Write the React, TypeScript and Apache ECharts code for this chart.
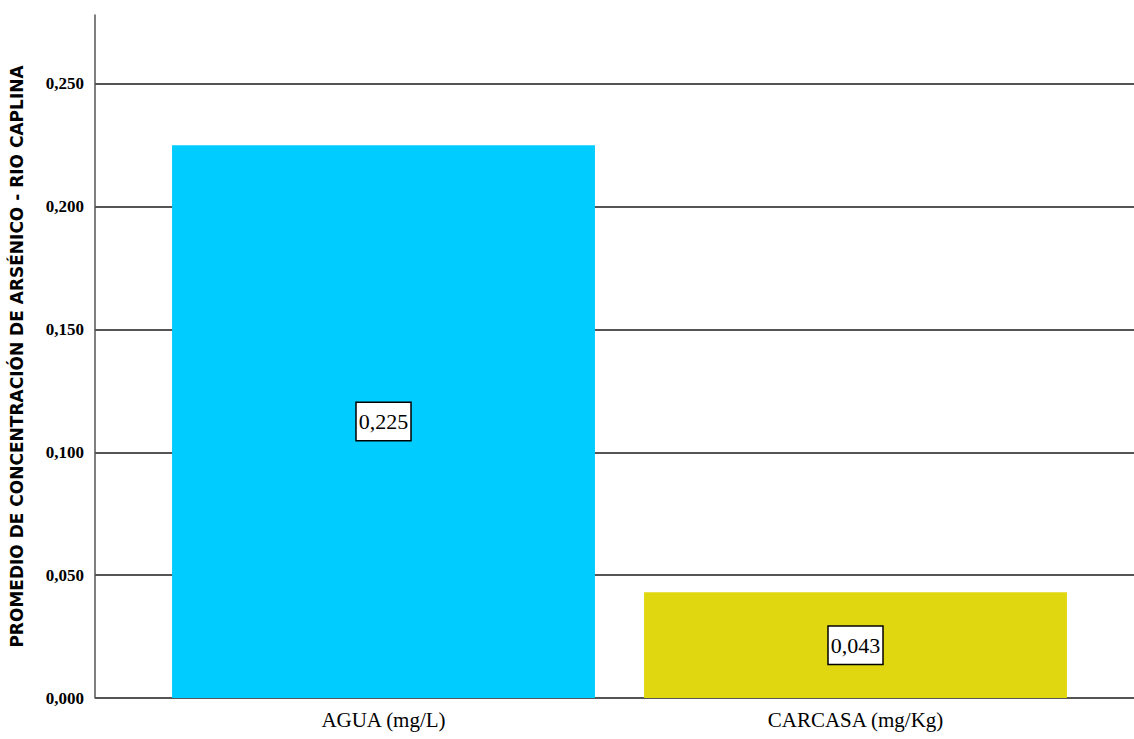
import React, { useEffect, useRef } from "react";
import * as echarts from "echarts";

const categories = ["AGUA (mg/L)", "CARCASA (mg/Kg)"];
const values = [0.225, 0.043];
const barColors = ["#00CCFF", "#E1D710"];
const yTitle = "PROMEDIO DE CONCENTRACIÓN DE ARSÉNICO - RIO CAPLINA";
const yMin = 0;
const yMax = 0.278;
const yStep = 0.05;

const SERIF = "'Liberation Serif', 'DejaVu Serif', 'Times New Roman', serif";
const fmt = (v: number) => v.toFixed(3).replace(".", ",");

export default function App() {
  const ref = useRef<HTMLDivElement>(null);
  useEffect(() => {
    if (!ref.current) return;
    const chart = echarts.init(ref.current, undefined, { renderer: "svg" });
    chart.setOption({
      animation: false,
      backgroundColor: "#ffffff",
      grid: [
        { left: 95, right: 0, top: 15, bottom: 41, outerBoundsMode: "none", containLabel: false },
        { left: 147.5, right: 42.5, top: 15, bottom: 41, outerBoundsMode: "none", containLabel: false },
      ],
      xAxis: [
        { type: "value", gridIndex: 0, show: false, min: 0, max: 1 },
        {
          type: "category",
          gridIndex: 1,
          data: categories,
          axisLine: { show: false },
          axisTick: { show: false },
          axisLabel: {
            fontFamily: SERIF,
            fontSize: 21,
            color: "#000",
            margin: 11,
          },
        },
      ],
      yAxis: [
        {
          type: "value",
          gridIndex: 0,
          min: yMin,
          max: yMax,
          interval: yStep,
          name: yTitle,
          nameLocation: "middle",
          nameRotate: 90,
          nameGap: 70,
          nameTextStyle: {
            fontFamily: "'DejaVu Sans', sans-serif",
            fontWeight: "bold",
            fontSize: 17,
            color: "#000",
          },
          axisLine: { show: true, lineStyle: { color: "#555", width: 1.5 } },
          axisTick: { show: false },
          axisLabel: {
            showMaxLabel: false,
            formatter: (v: number) => fmt(v),
            fontFamily: SERIF,
            fontWeight: "bold",
            fontSize: 17,
            color: "#000",
            margin: 11,
          },
          splitLine: {
            show: true,
            showMaxLine: false,
            lineStyle: { color: "#555", width: 2 },
          },
        },
        {
          type: "value",
          gridIndex: 1,
          min: yMin,
          max: yMax,
          interval: yStep,
          show: false,
          splitLine: { show: false },
        },
      ],
      series: [
        {
          type: "bar",
          xAxisIndex: 1,
          yAxisIndex: 1,
          barWidth: "89.6%",
          data: values.map((v, i) => ({
            value: v,
            itemStyle: { color: barColors[i] },
          })),
          label: {
            show: true,
            position: "inside",
            formatter: (p: any) => fmt(p.value),
            fontFamily: SERIF,
            fontSize: 22,
            color: "#000",
            backgroundColor: "#fff",
            borderColor: "#000",
            borderWidth: 1.5,
            padding: [8, 2, 7, 2],
          },
        },
      ],
    });
    return () => chart.dispose();
  }, []);
  return (
    <div
      ref={ref}
      style={{ position: "fixed", left: 0, top: 0, width: 1134, height: 739 }}
    />
  );
}
